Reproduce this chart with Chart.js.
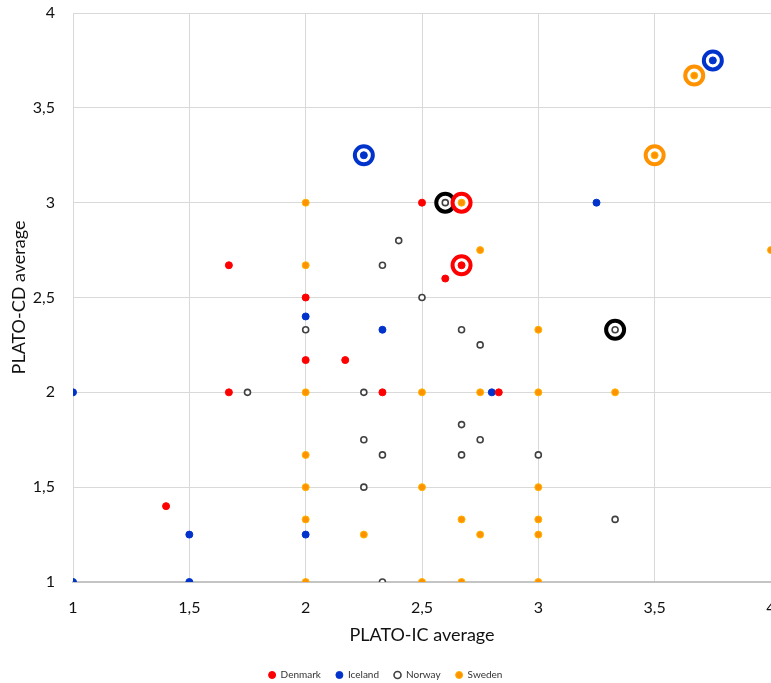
<!DOCTYPE html>
<html>
<head>
<meta charset="utf-8">
<script src="https://cdn.jsdelivr.net/npm/chart.js@4.4.1/dist/chart.umd.min.js"></script>
<style>
    html, body { margin: 0; padding: 0; background: #fff; overflow: hidden; }
    #wrap { width: 771px; height: 683px; position: relative; }
</style>
</head>
<body>
<div id="wrap"><canvas id="plotChart"></canvas></div>
<script>
// x = PLATO-IC average, y = PLATO-CD average
const denmark = [
    [1.4, 1.4], [1.67, 2], [1.67, 2.67], [2, 2.17], [2, 2.5], [2.17, 2.17],
    [2.33, 2], [2.5, 3], [2.6, 2.6], [2.67, 2.67], [2.83, 2],
];
const iceland = [
    [1, 1], [1, 2], [1.5, 1], [1.5, 1.25], [2, 1.25], [2, 2.4],
    [2.25, 3.25], [2.33, 2.33], [2.8, 2], [3.25, 3], [3.75, 3.75],
];
const norway = [
    [1.75, 2], [2, 2.33], [2.25, 2], [2.25, 1.75], [2.25, 1.5], [2.33, 2.67],
    [2.33, 1.67], [2.33, 1], [2.4, 2.8], [2.5, 2.5], [2.6, 3], [2.67, 2.33],
    [2.67, 1.83], [2.67, 1.67], [2.75, 2.25], [2.75, 1.75], [3, 1.67],
    [3.33, 2.33], [3.33, 1.33],
];
const sweden = [
    [2, 3], [2, 2.67], [2, 2], [2, 1.67], [2, 1.5], [2, 1.33], [2, 1],
    [2.25, 1.25], [2.5, 2], [2.5, 1.5], [2.5, 1], [2.67, 3], [2.67, 1.33],
    [2.67, 1], [2.75, 2.75], [2.75, 2], [2.75, 1.25], [3, 2.33], [3, 2],
    [3, 1.5], [3, 1.33], [3, 1.25], [3, 1], [3.33, 2], [3.5, 3.25],
    [3.67, 3.67], [4, 2.75],
];

// highlighted points (big rings)
const denmarkRing = [[2.67, 3], [2.67, 2.67]];
const icelandRing = [[2.25, 3.25], [3.75, 3.75]];
const norwayRing = [[2.6, 3], [3.33, 2.33]];
const swedenRing = [[3.5, 3.25], [3.67, 3.67]];

const countries = ["Denmark", "Iceland", "Norway", "Sweden"];
const xTicks = [1, 1.5, 2, 2.5, 3, 3.5, 4];
const yTicks = [1, 1.5, 2, 2.5, 3, 3.5, 4];

const FONT = "Lato, 'Open Sans', sans-serif";

function toXY(list) {
    return list.map((p) => ({ x: p[0], y: p[1] }));
}

function dotSet(label, list, fill, border, width, radius) {
    return {
        label: label,
        data: toXY(list),
        backgroundColor: fill,
        borderColor: border,
        borderWidth: width,
        pointRadius: radius,
        pointHoverRadius: radius,
        order: 0,
    };
}

function ringSet(label, list, color) {
    return {
        label: label + " ring",
        data: toXY(list),
        backgroundColor: "#ffffff",
        borderColor: color,
        borderWidth: 4,
        pointRadius: 9,
        pointHoverRadius: 9,
        order: 1,
    };
}

const ctx = document.getElementById("plotChart").getContext("2d");

new Chart(ctx, {
    type: "scatter",
    data: {
        datasets: [
            dotSet(countries[0], denmark, "#ff0000", "#ff0000", 1, 3.5),
            dotSet(countries[1], iceland, "#0033cc", "#0033cc", 1, 3.5),
            dotSet(countries[2], norway, "#ffffff", "#404040", 1.6, 3),
            dotSet(countries[3], sweden, "#ff9200", "#ffb400", 1, 3.5),
            ringSet(countries[0], denmarkRing, "#ff0000"),
            ringSet(countries[1], icelandRing, "#0033cc"),
            ringSet(countries[2], norwayRing, "#000000"),
            ringSet(countries[3], swedenRing, "#ff9200"),
        ],
    },
    options: {
        responsive: true,
        maintainAspectRatio: false,
        animation: false,
        events: [],
        layout: {
            autoPadding: false,
            padding: { top: 13, right: 0, left: 0, bottom: -7 },
        },
        scales: {
            x: {
                type: "linear",
                min: 1,
                max: 4,
                afterBuildTicks: (scale) => {
                    scale.ticks = xTicks.map((v) => ({ value: v }));
                },
                afterFit: (scale) => {
                    scale.height = 73;
                    scale.paddingLeft = 0;
                    scale.paddingRight = 0;
                },
                grid: { color: "#d9d9d9", lineWidth: 1, drawTicks: false },
                border: { color: "#c4c4c4", width: 2 },
                ticks: {
                    padding: 16,
                    color: "#111",
                    font: { family: FONT, size: 16 },
                    callback: (v) => String(v).replace(".", ","),
                },
                title: {
                    display: true,
                    text: "PLATO-IC average",
                    color: "#111",
                    font: { family: FONT, size: 18 },
                    padding: { top: 0, bottom: 9 },
                },
            },
            y: {
                type: "linear",
                min: 1,
                max: 4,
                afterBuildTicks: (scale) => {
                    scale.ticks = yTicks.map((v) => ({ value: v }));
                },
                afterFit: (scale) => {
                    scale.width = 73;
                    scale.paddingTop = 0;
                    scale.paddingBottom = 0;
                },
                grid: { color: "#d9d9d9", lineWidth: 1, drawTicks: false },
                border: { color: "#d9d9d9", width: 1 },
                ticks: {
                    padding: 18,
                    color: "#111",
                    font: { family: FONT, size: 16 },
                    callback: (v) => String(v).replace(".", ","),
                },
                title: {
                    display: true,
                    text: "PLATO-CD average",
                    color: "#111",
                    font: { family: FONT, size: 18 },
                    padding: { top: 8, bottom: 0 },
                },
            },
        },
        plugins: {
            tooltip: { enabled: false },
            legend: {
                display: true,
                position: "bottom",
                labels: {
                    filter: (item) => countries.includes(item.text),
                    usePointStyle: true,
                    pointStyle: "circle",
                    pointStyleWidth: 7,
                    boxHeight: 5,
                    padding: 15,
                    color: "#333",
                    font: { family: FONT, size: 10 },
                },
            },
        },
    },
});
</script>
</body>
</html>
